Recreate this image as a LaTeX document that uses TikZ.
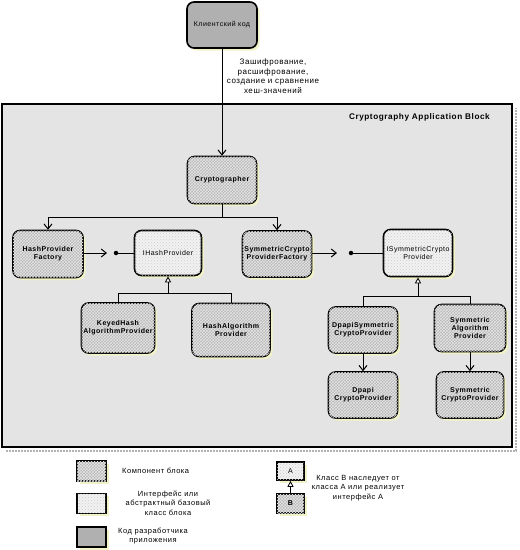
\documentclass[tikz,border=0pt]{standalone}
\usepackage{fontspec}
\setmainfont{Liberation Sans}[LetterSpace=7]
\usetikzlibrary{arrows.meta,patterns,shadows,calc}
\definecolor{blockbg}{HTML}{E4E4E4}
\definecolor{compbg}{HTML}{B8B8B8}
\definecolor{devbg}{HTML}{B0B0B0}
\definecolor{ifbg}{HTML}{F2F2F2}
\definecolor{shadowy}{HTML}{F2F2C8}
\begin{document}
\begin{tikzpicture}[x=1pt,y=-1pt,
  base/.style={draw, line width=1.6pt, align=center, inner sep=1pt,
    font=\fontsize{7}{8}\selectfont,
    drop shadow={shadow xshift=2.5pt,shadow yshift=-2.5pt,fill=shadowy,opacity=1}},
  rbox/.style={base, rounded corners=7pt},
  compfill/.style={fill=compbg, postaction={pattern=crosshatch, pattern color=white!80!gray}},
  iffill/.style={fill=ifbg, postaction={pattern=crosshatch dots, pattern color=gray!40}},
  comp/.style={rbox, compfill, font=\fontsize{7}{8}\selectfont\bfseries},
  iface/.style={rbox, iffill},
  dev/.style={rbox, fill=devbg},
  conn/.style={line width=1pt},
  arr/.style={conn, -{Straight Barb[length=5pt,width=8pt,line width=1pt]}},
  inh/.style={conn, -{Triangle[open,length=6pt,width=6pt,fill=white,line width=0.8pt]}},
  lbl/.style={align=center, font=\fontsize{7.5}{9.5}\selectfont, inner sep=0pt},
  ldot/.style={circle, fill=black, inner sep=0pt, minimum size=4.5pt}
]
\useasboundingbox (0,0) rectangle (520,550);
\fill[white] (0,0) rectangle (520,550);

% application block
\draw[gray!60, line width=1.5pt, dash pattern=on 2pt off 1pt] (6,451) -- (516,451) -- (516,108);
\draw[line width=1.8pt, fill=blockbg] (2,104) rectangle (512,447);
\node[font=\fontsize{8.2}{9}\selectfont\bfseries, anchor=east, inner sep=0pt] (title) at (490,117) {Cryptography Application Block};

% client code
\node[dev, minimum width=70pt, minimum height=46pt] (client) at (222,25) {Клиентский код};
\node[lbl, font=\fontsize{8}{9.5}\selectfont] (op) at (273,76) {Зашифрование,\\расшифрование,\\создание и сравнение\\хеш-значений};

% nodes
\node[comp, minimum width=69pt, minimum height=47pt] (crypto) at (222,180) {Cryptographer};
\node[comp, minimum width=70pt, minimum height=47pt] (hpf) at (48,254) {HashProvider\\Factory};
\node[iface, minimum width=67pt, minimum height=45pt] (ihash) at (168,253) {IHashProvider};
\node[comp, minimum width=73pt, minimum height=50pt] (keyed) at (118,328) {KeyedHash\\AlgorithmProvider};
\node[comp, minimum width=78pt, minimum height=53pt] (hashalg) at (231,330) {HashAlgorithm\\Provider};
\node[comp, minimum width=69pt, minimum height=46pt] (scpf) at (277,254) {SymmetricCrypto\\ProviderFactory};
\node[iface, minimum width=69pt, minimum height=47pt] (iscp) at (418,253) {ISymmetricCrypto\\Provider};
\node[comp, minimum width=69pt, minimum height=46pt] (dpsym) at (363,330) {DpapiSymmetric\\CryptoProvider};
\node[comp, minimum width=71pt, minimum height=47pt] (symalg) at (470,328) {Symmetric\\Algorithm\\Provider};
\node[comp, minimum width=69pt, minimum height=46pt] (dpcp) at (363,395) {Dpapi\\CryptoProvider};
\node[comp, minimum width=67pt, minimum height=46pt] (symcp) at (470,395) {Symmetric\\CryptoProvider};

% connectors
\draw[arr] (client.south) -- (crypto.north);
\coordinate (split) at (222,217);
\draw[conn] (crypto.south) -- (split);
\draw[arr] (split) -| (hpf.north);
\draw[arr] (split) -| (scpf.north);

\coordinate (hend) at (107,253);
\node[ldot] (hdot) at (116,253) {};
\draw[arr] (hpf.east |- hend) -- (hend);
\draw[conn] (hdot) -- (ihash.west);

\coordinate (send) at (337,253);
\node[ldot] (sdot) at (351,253) {};
\draw[arr] (scpf.east |- send) -- (send);
\draw[conn] (sdot) -- (iscp.west);

\coordinate (hj) at (168,293);
\draw[conn] (keyed.north) |- (hj);
\draw[conn] (hashalg.north) |- (hj);
\draw[inh] (hj) -- (ihash.south);

\coordinate (sj) at (418,296);
\draw[conn] (dpsym.north) |- (sj);
\draw[conn] (symalg.north) |- (sj);
\draw[inh] (sj) -- (iscp.south);

\draw[arr] (dpsym.south) -- (dpcp.north);
\draw[arr] (symalg.south) -- (symcp.north);

% legend
\node[base, compfill, minimum width=29pt, minimum height=20pt] (lcomp) at (91.5,471) {};
\node[lbl, anchor=west] (tcomp) at (122,471) {Компонент блока};
\node[base, iffill, minimum width=29pt, minimum height=20pt] (lif) at (91.5,503.5) {};
\node[lbl] (tif) at (168,503) {Интерфейс или\\абстрактный базовый\\класс блока};
\node[base, fill=devbg, minimum width=29pt, minimum height=20pt] (ldev) at (91.5,537) {};
\node[lbl] (tdev) at (153,536) {Код разработчика\\приложения};

\node[base, iffill, minimum width=27pt, minimum height=18pt] (la) at (290.5,471) {A};
\node[base, compfill, minimum width=27pt, minimum height=19pt, font=\fontsize{7}{8}\selectfont\bfseries] (lb) at (290.5,503.5) {B};
\draw[inh] (lb.north) -- (la.south);
\node[lbl] (tinh) at (358,488) {Класс B наследует от\\класса A или реализует\\интерфейс A};
\end{tikzpicture}
\end{document}
